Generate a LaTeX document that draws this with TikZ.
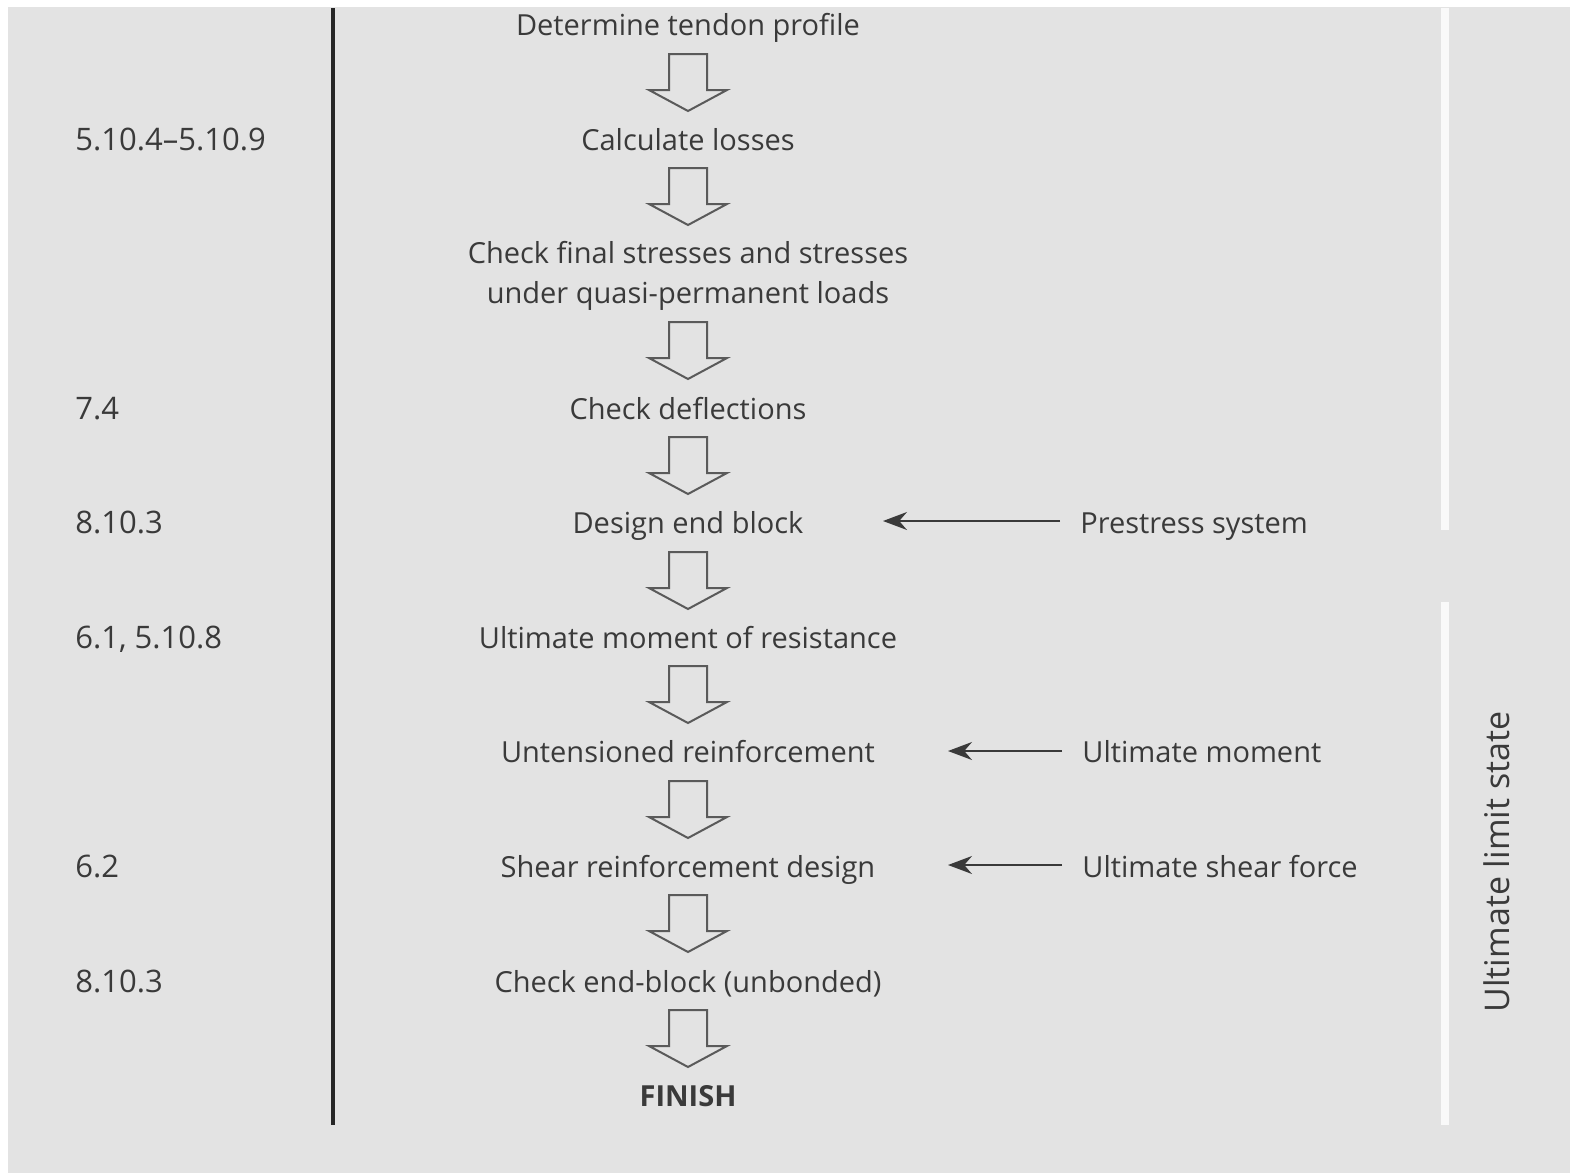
\documentclass[tikz,border=0pt]{standalone}
\usepackage{fontspec}
\setmainfont{Open Sans}
\usetikzlibrary{positioning,arrows.meta,calc}
\definecolor{papier}{HTML}{E3E3E3}
\definecolor{tinte}{HTML}{3A3A3A}
\definecolor{rand}{HTML}{5A5A5A}

\tikzset{
  schritt/.style={text=tinte, inner sep=0pt, align=center,
    font=\fontsize{14.5}{20}\selectfont},
  zeile/.style={schritt, text height=0.76em, text depth=0pt, yshift=-2pt},
  klausel/.style={text=tinte, inner sep=0pt, anchor=west,
    text height=0.76em, text depth=0pt, yshift=-2pt,
    font=\fontsize{15.5}{20}\selectfont},
  eingabe/.style={text=tinte, inner sep=0pt, inner xsep=10pt, anchor=west,
    text height=0.76em, text depth=0pt, yshift=-2pt,
    font=\fontsize{14.5}{20}\selectfont},
  zufuhr/.style={draw=tinte, line width=0.8pt, -{Stealth[length=12pt,width=9pt]}},
  pfeilrand/.style={draw=rand, line width=1pt, line join=miter},
  pics/blockpfeil/.style={code={
    \draw[pfeilrand] (-19,-28) -- (19,-28) -- (19,8) -- (39,8) -- (0,29)
      -- (-39,8) -- (-19,8) -- cycle;
  }}
}

\begin{document}
\begin{tikzpicture}[x=0.5pt,y=-0.5pt]
\useasboundingbox (0,0) rectangle (1570,1173);
\fill[white] (0,0) rectangle (1570,1173);
\fill[papier] (8,7) rectangle (1570,1173);
% Trennlinien
\draw[line width=2pt, color=black!85] (333,8) -- (333,1125);
\draw[line width=4pt, white!80!papier] (1445,8) -- (1445,530);
\draw[line width=4pt, white!80!papier] (1445,602) -- (1445,1125);
% Ablauf
\node[zeile] (s1) at (688,24) {Determine tendon profile};
\node[zeile] (s2) at (688,139) {Calculate losses};
\node[schritt] (s3) at (688,276) {Check final stresses and stresses\\under quasi-permanent loads};
\node[zeile] (s4) at (688,408) {Check deflections};
\node[zeile] (s5) at (688,522) {Design end block};
\node[zeile] (s6) at (688,637) {Ultimate moment of resistance};
\node[zeile] (s7) at (688,751) {Untensioned reinforcement};
\node[zeile] (s8) at (688,866) {Shear reinforcement design};
\node[zeile] (s9) at (688,981) {Check end-block (unbonded)};
\node[zeile, font=\fontsize{14.5}{20}\selectfont\bfseries] (s10) at (688,1095) {FINISH};
% Blockpfeile
\foreach \y in {82,196,350,465,580,694,809,923,1038}
  \pic at (688,\y) {blockpfeil};
% Abschnitte links
\node[klausel] (k2) at (75,139) {5.10.4–5.10.9};
\node[klausel] (k4) at (75,408) {7.4};
\node[klausel] (k5) at (75,522) {8.10.3};
\node[klausel] (k6) at (75,637) {6.1, 5.10.8};
\node[klausel] (k8) at (75,866) {6.2};
\node[klausel] (k9) at (75,981) {8.10.3};
% Eingaben rechts
\node[eingabe] (e5) at (1060,522) {Prestress system};
\node[eingabe] (e7) at (1062,751) {Ultimate moment};
\node[eingabe] (e8) at (1062,866) {Ultimate shear force};
\coordinate (z5) at (883,521);
\coordinate (z7) at (948,751);
\coordinate (z8) at (948,865);
\draw[zufuhr] (e5.west |- z5) -- (z5);
\draw[zufuhr] (e7.west |- z7) -- (z7);
\draw[zufuhr] (e8.west |- z8) -- (z8);
% Grenzzustand
\node[schritt, rotate=90, font=\fontsize{17}{20}\selectfont] (uls) at (1497,862) {Ultimate limit state};
\end{tikzpicture}
\end{document}
